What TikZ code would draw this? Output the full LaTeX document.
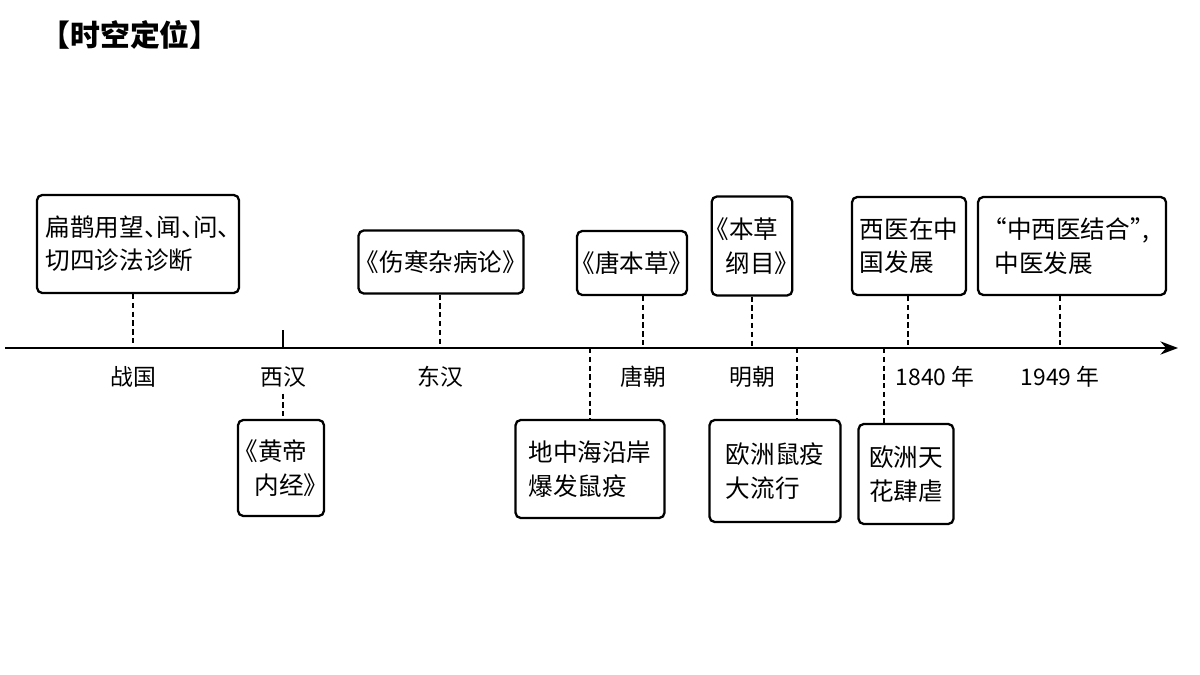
\documentclass[tikz,border=0pt]{standalone}
\usepackage{fontspec}
\setmainfont{Noto Sans CJK SC}[RawFeature=+halt]
\usetikzlibrary{arrows.meta}
\tikzset{
	evt/.style = {draw, line width=1.3pt, rounded corners=3pt, align=left, inner sep=3pt, font=\fontsize{14}{19}\selectfont},
	era/.style = {font=\fontsize{13}{16}\selectfont},
	link/.style = {densely dashed, line width=1pt},
}
\begin{document}
\begin{tikzpicture}[x = 0.02cm, y = -0.02cm]
	\useasboundingbox (0,0) rectangle (1200,675);
	\node[font=\fontsize{17}{20}\selectfont\bfseries] (title) at (130,35) {【时空定位】};
	
	\coordinate (start) at (5,348);
	\coordinate (end) at (1178,348);
	\draw[line width=1.3pt, -{Stealth[length=10pt]}] (start) -- (end);
	
	\foreach \name/\x in {zg/133, xh/283, dh/440, dhm/590, tc/643, mc/752, mce/797, ct/884, y1840/908, y1949/1060}
		\coordinate (\name) at (\x,348);
	
	\node[era] (lzg) at (133,377) {战国};
	\node[era] (lxh) at (283,377) {西汉};
	\node[era] (ldh) at (440,377) {东汉};
	\node[era] (ltc) at (643,377) {唐朝};
	\node[era] (lmc) at (752,377) {明朝};
	\node[era] (l1840) at (935,377) {1840 年};
	\node[era] (l1949) at (1060,377) {1949 年};
	
	% upper events
	\node[evt, minimum width=202*0.02cm, minimum height=98*0.02cm] (bq) at (138,244) {扁鹊用望、闻、问、\\切四诊法诊断};
	\node[evt, minimum width=165*0.02cm, minimum height=63*0.02cm] (sh) at (441,262) {《伤寒杂病论》};
	\node[evt, minimum width=110*0.02cm, minimum height=64*0.02cm] (tb) at (632,263) {《唐本草》};
	\node[evt, minimum width=79*0.02cm, minimum height=99*0.02cm] (bc) at (752,246) {《本草\\\hspace{0.35em}纲目》};
	\node[evt, minimum width=114*0.02cm, minimum height=98*0.02cm] (xy) at (909,246) {西医在中\\国发展};
	\node[evt, minimum width=188*0.02cm, minimum height=98*0.02cm] (zx) at (1072,246) {“中西医结合”,\\中医发展};
	
	% lower events
	\node[evt, minimum width=86*0.02cm, minimum height=96*0.02cm] (hd) at (281,468) {《黄帝\\\hspace{0.35em}内经》};
	\node[evt, minimum width=149*0.02cm, minimum height=98*0.02cm] (dz) at (590,469) {地中海沿岸\\爆发鼠疫};
	\node[evt, minimum width=131*0.02cm, minimum height=102*0.02cm] (oz) at (775,471) {欧洲鼠疫\\大流行};
	\node[evt, minimum width=95*0.02cm, minimum height=100*0.02cm] (th) at (906,474) {欧洲天\\花肆虐};
	
	\draw[link] (bq.south -| zg) -- (zg);
	\draw[link] (sh.south -| dh) -- (dh);
	\draw[link] (tb.south -| tc) -- (tc);
	\draw[link] (bc.south -| mc) -- (mc);
	\draw[link] (xy.south -| y1840) -- (y1840);
	\draw[link] (zx.south -| y1949) -- (y1949);
	\draw[line width=1pt] (xh) -- ++(0,-18);
	\draw[link] (lxh.south) -- (hd.north -| xh);
	\draw[link] (dhm) -- (dz.north -| dhm);
	\draw[link] (mce) -- (oz.north -| mce);
	\draw[link] (ct) -- (th.north -| ct);
\end{tikzpicture}
\end{document}
